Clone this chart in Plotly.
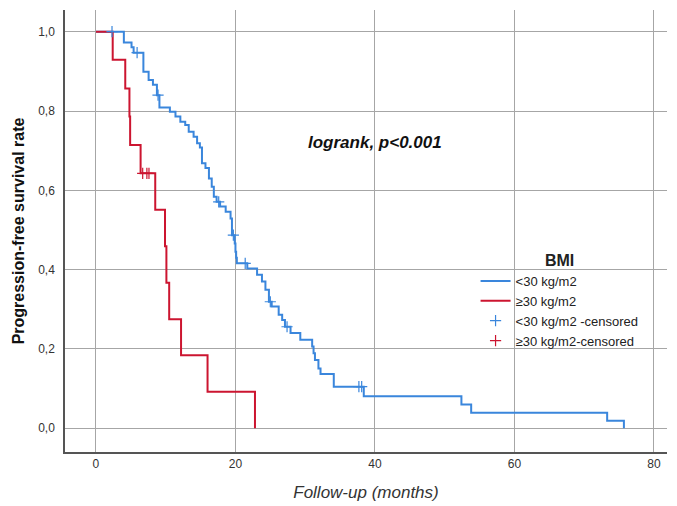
import numpy as np
import plotly.graph_objects as go

# Kaplan-Meier step data: event times (months) and survival after each event
low_bmi_t = [0, 4.0, 5.1, 5.4, 6.8, 7.55, 8.17, 8.74, 9.1, 10.6, 11.4, 12.1, 12.8,
             13.3, 14.0, 14.5, 14.9, 15.2, 15.7, 16.2, 16.6, 16.9, 17.3, 17.8, 18.6,
             19.3, 19.5, 19.9, 20.0, 20.1, 20.2, 21.7, 23.1, 23.8, 24.3, 24.8, 25.2,
             26.2, 26.7, 27.1, 27.9, 29.3, 31.0, 31.2, 31.4, 31.9, 32.2, 34.1, 38.4,
             52.4, 53.8, 73.3, 75.7]
low_bmi_s = [1.0, 0.973, 0.961, 0.947, 0.899, 0.878, 0.866, 0.840, 0.809, 0.798,
             0.786, 0.773, 0.765, 0.748, 0.735, 0.719, 0.708, 0.668, 0.656, 0.630,
             0.609, 0.584, 0.571, 0.559, 0.546, 0.529, 0.487, 0.466, 0.445, 0.430,
             0.416, 0.403, 0.387, 0.370, 0.349, 0.319, 0.307, 0.286, 0.273, 0.256,
             0.240, 0.223, 0.206, 0.189, 0.172, 0.151, 0.137, 0.105, 0.081, 0.060,
             0.039, 0.019, 0.0]
low_bmi_cens = [2.3, 5.9, 8.9, 17.6, 19.7, 21.4, 25.0, 27.4, 37.7, 38.1]

high_bmi_t = [0, 2.4, 4.2, 4.8, 4.9, 6.4, 8.5, 9.9, 10.1, 10.5, 12.2, 16.0, 22.8]
high_bmi_s = [1.0, 0.929, 0.857, 0.786, 0.714, 0.643, 0.551, 0.459, 0.367, 0.275,
              0.184, 0.092, 0.0]
high_bmi_cens = [6.7, 7.3, 7.6]

x_ticks = [0, 20, 40, 60, 80]
y_ticks = [0.0, 0.2, 0.4, 0.6, 0.8, 1.0]
y_tick_text = ["0,0", "0,2", "0,4", "0,6", "0,8", "1,0"]

BLUE = "#3a86dc"
RED = "#cc1530"
FONT = "Liberation Sans, Arial, sans-serif"


def surv_at(times, surv, t):
    """Survival value of a step curve at the given times."""
    idx = np.searchsorted(np.asarray(times), np.asarray(t), side="right") - 1
    return np.asarray(surv)[idx]


def cens_marker(color):
    return dict(symbol="cross-thin-open", size=8, color=color,
                line=dict(color=color, width=1.2))


fig = go.Figure()
fig.add_trace(go.Scatter(x=low_bmi_t, y=low_bmi_s, mode="lines", line_shape="hv",
                         line=dict(color=BLUE, width=2), name="<30 kg/m2"))
fig.add_trace(go.Scatter(x=high_bmi_t, y=high_bmi_s, mode="lines", line_shape="hv",
                         line=dict(color=RED, width=2), name="≥30 kg/m2"))
fig.add_trace(go.Scatter(x=low_bmi_cens, y=surv_at(low_bmi_t, low_bmi_s, low_bmi_cens),
                         mode="markers", name="<30 kg/m2 -censored",
                         marker=cens_marker(BLUE)))
fig.add_trace(go.Scatter(x=high_bmi_cens, y=surv_at(high_bmi_t, high_bmi_s, high_bmi_cens),
                         mode="markers", name="≥30 kg/m2-censored",
                         marker=cens_marker(RED)))

fig.add_annotation(x=40, y=0.72, xref="x", yref="y", text="<b><i>logrank, p<0.001</i></b>",
                   showarrow=False, font=dict(family=FONT, size=17, color="#111"))

grid = "#a6a6a6"
fig.update_layout(
    width=677, height=506,
    margin=dict(l=65, r=10, t=10, b=54),
    paper_bgcolor="white", plot_bgcolor="white",
    font=dict(family=FONT, color="#333"),
    showlegend=True,
    legend=dict(x=0.682, y=0.468, xanchor="left", yanchor="top",
                bgcolor="rgba(0,0,0,0)", font=dict(size=13, color="#222"),
                title=dict(text="<b>BMI</b>", side="top center",
                           font=dict(size=16, color="#222")),
                tracegroupgap=0, itemwidth=30),
    xaxis=dict(range=[-4.44, 81.88], tickvals=x_ticks, showgrid=True,
               gridcolor=grid, gridwidth=1, zeroline=False, automargin=False,
               showline=True, linecolor="#555", linewidth=1.5, ticks="",
               tickfont=dict(size=12, color="#333"),
               title=dict(text="<i>Follow-up (months)</i>",
                          font=dict(size=17, color="#333"), standoff=16)),
    yaxis=dict(range=[-0.0598, 1.0547], tickvals=y_ticks, ticktext=y_tick_text,
               showgrid=True, gridcolor=grid, gridwidth=1, zeroline=False,
               automargin=False,
               showline=True, linecolor="#555", linewidth=1.5, ticks="",
               ticklabelstandoff=6,
               tickfont=dict(size=12, color="#333"),
               title=dict(text="<b>Progression-free survival rate</b>",
                          font=dict(size=16, color="#111"), standoff=10)),
)

fig.write_html("out.html")
